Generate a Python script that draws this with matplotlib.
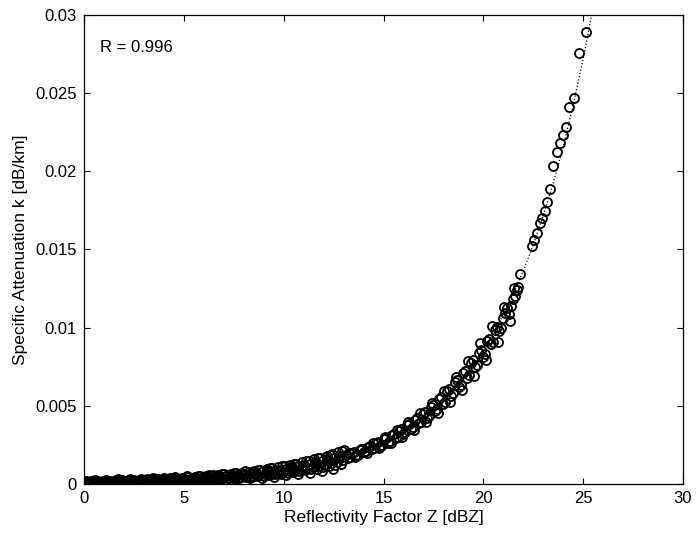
import numpy as np
import matplotlib
matplotlib.use("Agg")
import matplotlib.pyplot as plt

plt.rcParams["font.family"] = ["Liberation Sans", "DejaVu Sans"]

# Reflectivity Z [dBZ] and specific attenuation k [1e-3 dB/km]
z_low_upper = [0.1, 0.35, 0.7, 0.95, 1.3, 1.6, 1.9, 2.25, 2.5, 2.8, 3.15, 3.4, 3.7, 4.05, 4.3,
               4.6, 4.9, 5.2, 5.55, 5.8, 6.1, 6.45, 6.7, 7.0, 7.35, 7.6, 7.9, 8.25, 8.5, 8.8,
               9.15, 9.4, 9.7, 10.05, 10.3, 10.6, 10.9, 11.25, 11.5, 11.8, 12.15, 12.4, 12.7, 13.0]
k_low_upper = [0.19, 0.20, 0.21, 0.21, 0.22, 0.23, 0.25, 0.26, 0.27, 0.28, 0.30, 0.31, 0.33, 0.35, 0.37,
               0.39, 0.41, 0.43, 0.46, 0.48, 0.51, 0.55, 0.58, 0.61, 0.66, 0.69, 0.73, 0.79, 0.83, 0.89,
               0.95, 1.01, 1.07, 1.16, 1.22, 1.30, 1.39, 1.50, 1.58, 1.69, 1.82, 1.93, 2.06, 2.20]

z_low_lower = [0.2, 0.5, 0.85, 1.15, 1.45, 1.75, 2.05, 2.4, 2.65, 2.95, 3.25, 3.55, 3.85, 4.15, 4.45,
               4.75, 5.05, 5.35, 5.65, 6.0, 6.3, 6.55, 6.85, 7.2, 7.45, 7.75, 8.1, 8.35, 8.65, 9.0,
               9.25, 9.55, 9.85, 10.2, 10.45, 10.75, 11.05, 11.35, 11.65, 11.95, 12.25, 12.55, 12.85]
k_low_lower = [0.07, 0.08, 0.08, 0.09, 0.10, 0.10, 0.11, 0.12, 0.12, 0.13, 0.14, 0.15, 0.17, 0.18, 0.19,
               0.20, 0.22, 0.23, 0.25, 0.27, 0.29, 0.31, 0.33, 0.36, 0.38, 0.40, 0.44, 0.46, 0.50, 0.54,
               0.57, 0.61, 0.66, 0.71, 0.75, 0.81, 0.87, 0.93, 0.99, 1.07, 1.14, 1.22, 1.31]

z_low_mid = [0.25, 0.8, 1.4, 2.0, 2.6, 3.2, 3.8, 4.4, 5.0, 5.6, 6.2, 6.8, 7.4, 8.0, 8.6,
             9.2, 9.8, 10.4, 11.0, 11.6, 12.2, 12.8]
k_low_mid = [0.12, 0.13, 0.15, 0.16, 0.18, 0.21, 0.23, 0.26, 0.30, 0.34, 0.38, 0.44, 0.50, 0.57, 0.65,
             0.74, 0.84, 0.96, 1.10, 1.26, 1.44, 1.65]

z_low_top = [0.55, 1.1, 1.7, 2.3, 2.85, 3.45, 4.0, 4.55, 5.15, 5.7, 6.25, 6.9, 7.5, 8.05, 8.7,
             9.3, 9.9, 10.5, 11.1, 11.7, 12.3, 12.9]
k_low_top = [0.27, 0.28, 0.30, 0.32, 0.35, 0.38, 0.41, 0.44, 0.48, 0.53, 0.58, 0.65, 0.72, 0.80, 0.91,
             1.02, 1.15, 1.29, 1.46, 1.66, 1.88, 2.14]

z_low_bottom = [0.6, 1.2, 1.8, 2.35, 2.9, 3.5, 4.1, 4.7, 5.25, 5.85, 6.4, 7.05, 7.65, 8.3, 8.9,
                9.5, 10.1, 10.7, 11.3, 11.9, 12.45]
k_low_bottom = [0.05, 0.06, 0.07, 0.08, 0.09, 0.10, 0.12, 0.14, 0.16, 0.19, 0.22, 0.26, 0.30, 0.36, 0.41,
                0.47, 0.55, 0.63, 0.73, 0.85, 0.97]

z_low_f = [0.15, 0.45, 0.75, 1.05, 1.35, 1.65, 1.95, 2.3, 2.55, 2.9, 3.2, 3.5, 3.8, 4.1, 4.4,
           4.7, 5.0, 5.3, 5.6, 5.9, 6.15, 6.5, 6.75, 7.1, 7.4, 7.7, 8.0, 8.3, 8.6, 8.9,
           9.2, 9.5, 9.8, 10.1, 10.4, 10.7, 11.0, 11.3, 11.6, 11.9, 12.2, 12.5, 12.8]
k_low_f = [0.13, 0.13, 0.14, 0.15, 0.16, 0.17, 0.18, 0.19, 0.20, 0.21, 0.23, 0.24, 0.25, 0.27, 0.29,
           0.31, 0.33, 0.35, 0.37, 0.39, 0.42, 0.45, 0.47, 0.51, 0.54, 0.58, 0.62, 0.66, 0.71, 0.76,
           0.81, 0.86, 0.92, 0.99, 1.06, 1.13, 1.21, 1.29, 1.38, 1.48, 1.58, 1.69, 1.81]

z_low_g = [0.05, 0.3, 0.6, 0.9, 1.2, 1.5, 1.85, 2.15, 2.45, 2.75, 3.05, 3.35, 3.65, 3.95, 4.25,
           4.55, 4.85, 5.15, 5.45, 5.75, 6.05, 6.35, 6.65, 6.95, 7.25, 7.55, 7.85, 8.15, 8.45, 8.75,
           9.05, 9.35, 9.65, 9.95, 10.25, 10.55, 10.85, 11.15, 11.45, 11.75, 12.05, 12.35, 12.65, 12.95]
k_low_g = [0.08, 0.08, 0.09, 0.09, 0.10, 0.11, 0.12, 0.13, 0.13, 0.14, 0.15, 0.17, 0.18, 0.19, 0.20,
           0.22, 0.23, 0.25, 0.27, 0.29, 0.31, 0.33, 0.35, 0.38, 0.41, 0.44, 0.47, 0.50, 0.54, 0.58,
           0.62, 0.66, 0.71, 0.76, 0.81, 0.87, 0.94, 1.00, 1.07, 1.15, 1.23, 1.32, 1.42, 1.51]

z_mid_a = [13.1, 13.3, 13.5, 13.7, 13.9, 14.1, 14.3, 14.5, 14.7, 14.9, 15.1, 15.3, 15.5, 15.7, 15.9,
           16.1, 16.3, 16.5, 16.7, 16.9, 17.1, 17.3, 17.5, 17.7, 17.9, 18.1, 18.3, 18.5, 18.7, 18.9,
           19.1, 19.3, 19.5, 19.7, 19.9, 20.1, 20.3, 20.5, 20.7, 20.9, 21.1, 21.3, 21.5, 21.7]
k_mid_a = [1.85, 1.70, 2.02, 1.88, 2.25, 2.08, 2.45, 2.28, 2.70, 2.50, 2.95, 2.72, 3.22, 3.00, 3.52,
           3.30, 3.85, 3.62, 4.25, 3.98, 4.62, 4.35, 5.05, 4.78, 5.55, 5.25, 6.10, 5.80, 6.65, 6.35,
           7.25, 6.95, 7.90, 7.60, 8.55, 8.30, 9.30, 9.10, 10.05, 9.95, 10.95, 10.90, 11.85, 12.40]

z_mid_b = [13.2, 13.4, 13.6, 13.8, 14.0, 14.2, 14.4, 14.6, 14.8, 15.0, 15.2, 15.4, 15.6, 15.8, 16.0,
           16.2, 16.4, 16.6, 16.8, 17.0, 17.2, 17.4, 17.6, 17.8, 18.0, 18.2, 18.4, 18.6, 18.8, 19.0,
           19.2, 19.4, 19.6, 19.8, 20.0, 20.2, 20.4, 20.6, 20.8, 21.0, 21.2, 21.4, 21.6, 21.75]
k_mid_b = [1.66, 1.97, 1.84, 2.18, 2.02, 2.38, 2.22, 2.62, 2.42, 2.86, 2.65, 3.12, 2.92, 3.42, 3.20,
           3.76, 3.50, 4.12, 3.88, 4.50, 4.22, 4.95, 4.65, 5.42, 5.10, 5.95, 5.62, 6.50, 6.20, 7.08,
           6.80, 7.75, 7.45, 8.40, 8.15, 9.15, 8.95, 9.85, 9.80, 10.60, 11.25, 11.40, 12.05, 12.60]

z_mid_c = [13.25, 13.55, 13.85, 14.15, 14.45, 14.75, 15.05, 15.35, 15.65, 15.95, 16.25, 16.55, 16.85,
           17.15, 17.45, 17.75, 18.05, 18.35, 18.65, 18.95, 19.25, 19.55, 19.85, 20.15, 20.45, 20.75,
           21.05, 21.35, 21.55]
k_mid_c = [1.98, 1.73, 2.27, 1.99, 2.61, 2.29, 2.99, 2.62, 3.43, 3.02, 3.95, 3.46, 4.53,
           3.97, 5.20, 4.55, 5.97, 5.23, 6.85, 6.01, 7.87, 6.89, 9.03, 7.92, 10.10, 9.09,
           11.30, 10.44, 12.50]

z_high = [21.83, 22.42, 22.55, 22.67, 22.83, 22.95, 23.08, 23.18, 23.33, 23.49, 23.69,
          23.84, 23.99, 24.14, 24.29, 24.54, 24.79, 25.12]
k_high = [13.40, 15.21, 15.60, 16.07, 16.70, 17.00, 17.45, 18.06, 18.83, 20.30, 21.20,
          21.83, 22.34, 22.85, 24.10, 24.70, 27.57, 28.87]

# dotted power-law fit
z_fit = [0, 1, 2, 3, 4, 5, 6, 7, 8, 9, 10, 11, 12, 13, 14, 15, 16, 17, 18, 19, 20,
         21, 21.5, 22, 22.5, 23, 23.5, 24, 24.5, 25, 25.5]
k_fit = [0.086, 0.108, 0.136, 0.172, 0.216, 0.272, 0.342, 0.431, 0.543, 0.683, 0.86,
         1.083, 1.363, 1.716, 2.16, 2.719, 3.424, 4.31, 5.426, 6.831, 8.6,
         10.83, 12.15, 13.63, 15.30, 17.16, 19.26, 21.60, 24.24, 27.20, 30.5]

z_all = np.array(z_low_upper + z_low_lower + z_low_mid + z_low_top + z_low_bottom
                 + z_low_f + z_low_g + z_mid_a + z_mid_b + z_mid_c + z_high)
k_all = np.array(k_low_upper + k_low_lower + k_low_mid + k_low_top + k_low_bottom
                 + k_low_f + k_low_g + k_mid_a + k_mid_b + k_mid_c + k_high) * 1e-3

fig = plt.figure(figsize=(6.97, 5.36), dpi=100)
ax = fig.add_axes([0.1205, 0.0970, 0.8595, 0.8755])

ax.plot(np.array(z_fit), np.array(k_fit) * 1e-3, linestyle=":", color="black", linewidth=0.9)
ax.plot(z_all, k_all, linestyle="none", marker="o", markersize=6.5,
        markerfacecolor="none", markeredgecolor="black", markeredgewidth=1.3)

ax.set_xlim(0, 30)
ax.set_ylim(0, 0.03)
ax.set_xticks([0, 5, 10, 15, 20, 25, 30])
ax.set_yticks([0, 0.005, 0.01, 0.015, 0.02, 0.025, 0.03])
ax.set_yticklabels(["0", "0.005", "0.01", "0.015", "0.02", "0.025", "0.03"])
ax.tick_params(direction="in", length=4, width=0.8, top=True, right=True,
               labelsize=12, pad=5)
for s in ax.spines.values():
    s.set_linewidth(0.9)

ax.set_xlabel("Reflectivity Factor Z [dBZ]", fontsize=12.5, labelpad=3)
ax.set_ylabel("Specific Attenuation k [dB/km]", fontsize=12.5, labelpad=5)
ax.text(0.8, 0.0279, "R = 0.996", fontsize=12, va="center", ha="left")

fig.savefig("out.png", dpi=100)
